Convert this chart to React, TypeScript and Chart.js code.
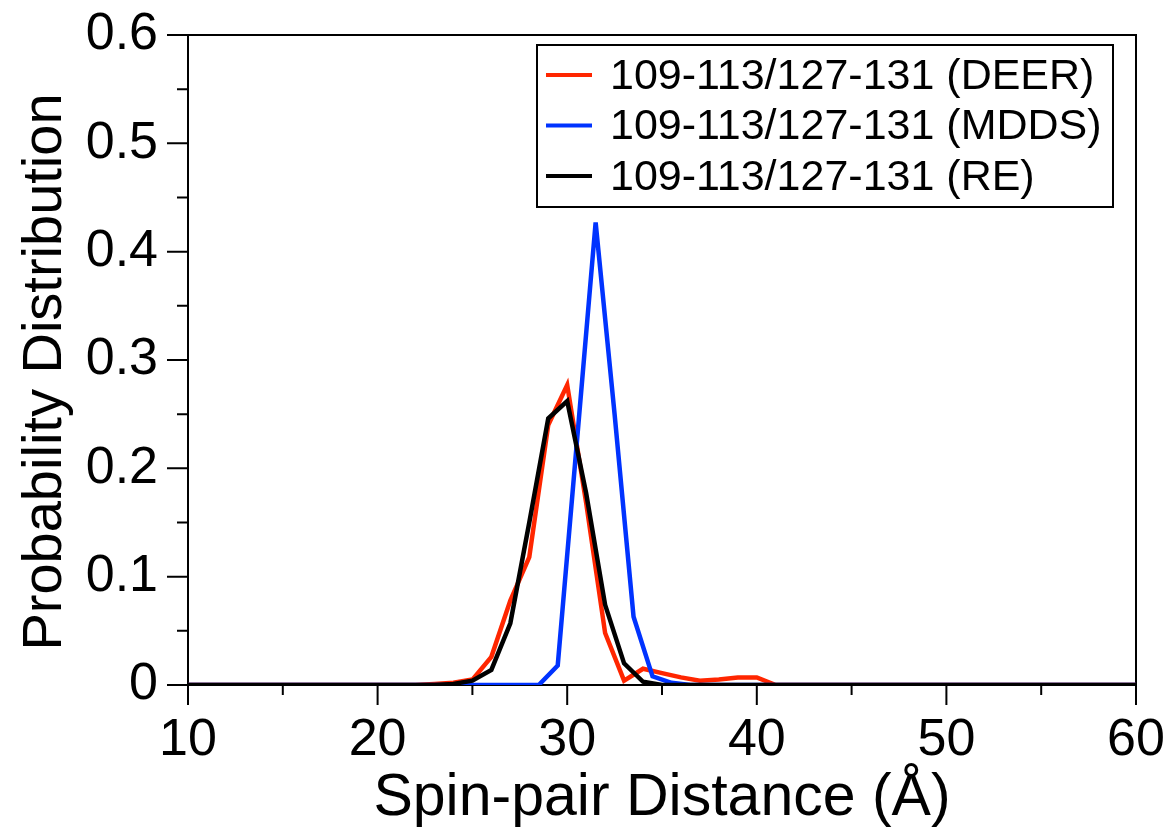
import React, { useEffect, useRef } from 'react';
import { Chart, registerables } from 'chart.js';

Chart.register(...registerables);

// Distances (Å) and probability values
const deerX = [10, 22, 23, 24, 25, 26, 27, 28, 29, 30, 31, 32, 33, 34, 35, 36, 37, 38, 39, 40, 41, 60];
const deerY = [0, 0, 0.001, 0.002, 0.005, 0.026, 0.078, 0.118, 0.24, 0.277, 0.168, 0.048, 0.004, 0.015, 0.011, 0.007, 0.004, 0.005, 0.007, 0.007, 0, 0];

const mddsX = [10, 28.5, 29.5, 30.5, 31.5, 32.5, 33.5, 34.5, 35.5, 36.5, 60];
const mddsY = [0, 0, 0.018, 0.222, 0.427, 0.25, 0.063, 0.008, 0.002, 0, 0];

const reX = [10, 23, 24, 25, 26, 27, 28, 29, 30, 31, 32, 33, 34, 35, 60];
const reY = [0, 0, 0.001, 0.004, 0.014, 0.057, 0.15, 0.246, 0.262, 0.177, 0.074, 0.02, 0.003, 0, 0];

const seriesLabels = [
  '109-113/127-131 (DEER)',
  '109-113/127-131 (MDDS)',
  '109-113/127-131 (RE)',
];
const seriesColors = ['#ff2600', '#0033ff', '#000000'];

const xMin = 10;
const xMax = 60;
const xStep = 10;
const yMin = 0;
const yMax = 0.6;
const yStep = 0.1;

const xTitle = 'Spin-pair Distance (Å)';
const yTitle = 'Probability Distribution';

const FONT = "'Liberation Sans', Arial, Helvetica, sans-serif";

const toPoints = (xs: number[], ys: number[]) => xs.map((x, i) => ({ x, y: ys[i] }));

const zeroScalePadding = (scale: any) => {
  scale.paddingLeft = 0;
  scale.paddingRight = 0;
  scale.paddingTop = 0;
  scale.paddingBottom = 0;
};

const frameTicksPlugin = {
  id: 'frameTicks',
  beforeDatasetsDraw(chart: any) {
    const { ctx, chartArea } = chart;
    const { left, right, top, bottom } = chartArea;
    ctx.save();
    ctx.strokeStyle = '#000';
    ctx.lineWidth = 2;
    ctx.strokeRect(left, top, right - left, bottom - top);

    const drawTicks = (scale: any, horizontal: boolean) => {
      const vals: number[] = scale.ticks.map((t: any) => t.value);
      const minors: number[] = [];
      for (let i = 0; i < vals.length - 1; i++) minors.push((vals[i] + vals[i + 1]) / 2);
      ctx.lineWidth = 2;
      ctx.beginPath();
      vals.forEach((v) => {
        const p = scale.getPixelForValue(v);
        if (horizontal) {
          ctx.moveTo(p, bottom);
          ctx.lineTo(p, bottom + 20);
        } else {
          ctx.moveTo(left, p);
          ctx.lineTo(left - 21, p);
        }
      });
      minors.forEach((v) => {
        const p = scale.getPixelForValue(v);
        if (horizontal) {
          ctx.moveTo(p, bottom);
          ctx.lineTo(p, bottom + 10);
        } else {
          ctx.moveTo(left, p);
          ctx.lineTo(left - 11, p);
        }
      });
      ctx.stroke();
    };
    drawTicks(chart.scales.x, true);
    drawTicks(chart.scales.y, false);
    ctx.restore();
  },
};

const yTitlePlugin = {
  id: 'yTitle',
  afterDraw(chart: any) {
    const { ctx } = chart;
    ctx.save();
    ctx.translate(46, 372);
    ctx.rotate(-Math.PI / 2);
    ctx.font = `56px ${FONT}`;
    ctx.fillStyle = '#000';
    ctx.textAlign = 'center';
    ctx.textBaseline = 'middle';
    ctx.fillText(yTitle, 0, 0);
    ctx.restore();
  },
};

const boxLegendPlugin = {
  id: 'boxLegend',
  afterDraw(chart: any) {
    const { ctx } = chart;
    const bx = 537;
    const by = 45;
    const bw = 576;
    const bh = 162;
    ctx.save();
    ctx.fillStyle = '#fff';
    ctx.fillRect(bx, by, bw, bh);
    ctx.strokeStyle = '#000';
    ctx.lineWidth = 2;
    ctx.strokeRect(bx, by, bw, bh);
    ctx.font = `43px ${FONT}`;
    ctx.textBaseline = 'middle';
    ctx.textAlign = 'left';
    chart.data.datasets.forEach((ds: any, i: number) => {
      const cy = by + 30 + i * 50.5;
      ctx.strokeStyle = ds.borderColor;
      ctx.lineWidth = 4;
      ctx.beginPath();
      ctx.moveTo(bx + 9, cy);
      ctx.lineTo(bx + 55, cy);
      ctx.stroke();
      ctx.fillStyle = '#000';
      ctx.fillText(ds.label, bx + 73, cy + 2);
    });
    ctx.restore();
  },
};

export default function App() {
  const canvasRef = useRef<HTMLCanvasElement | null>(null);

  useEffect(() => {
    if (!canvasRef.current) return;
    const chart = new Chart(canvasRef.current, {
      type: 'scatter',
      data: {
        datasets: [
          { label: seriesLabels[0], data: toPoints(deerX, deerY), borderColor: seriesColors[0], order: 3 },
          { label: seriesLabels[1], data: toPoints(mddsX, mddsY), borderColor: seriesColors[1], order: 2 },
          { label: seriesLabels[2], data: toPoints(reX, reY), borderColor: seriesColors[2], order: 1 },
        ].map((d) => ({
          ...d,
          showLine: true,
          borderWidth: 4.5,
          pointRadius: 0,
          pointHoverRadius: 0,
          backgroundColor: d.borderColor,
          tension: 0,
          borderJoinStyle: 'miter' as const,
        })),
      },
      options: {
        animation: false,
        responsive: false,
        devicePixelRatio: 1,
        layout: { padding: { left: 0, right: 36, top: 35, bottom: 0 } },
        plugins: {
          legend: { display: false },
          tooltip: { enabled: false },
        },
        scales: {
          x: {
            type: 'linear',
            min: xMin,
            max: xMax,
            grid: { display: false, drawTicks: false },
            border: { display: false },
            ticks: {
              stepSize: xStep,
              color: '#000',
              font: { family: FONT, size: 52 },
              padding: 24,
              maxRotation: 0,
            },
            title: {
              display: true,
              text: xTitle,
              color: '#000',
              font: { family: FONT, size: 59 },
              padding: { top: 0, bottom: 4 },
            },
            afterFit: (scale: any) => {
              scale.height = 153;
              zeroScalePadding(scale);
            },
          },
          y: {
            type: 'linear',
            min: yMin,
            max: yMax,
            grid: { display: false, drawTicks: false },
            border: { display: false },
            ticks: {
              stepSize: yStep,
              color: '#000',
              font: { family: FONT, size: 52 },
              padding: 30,
            },
            title: { display: false },
            afterFit: (scale: any) => {
              scale.width = 188;
              zeroScalePadding(scale);
            },
          },
        },
      },
      plugins: [frameTicksPlugin, yTitlePlugin, boxLegendPlugin],
    });
    return () => chart.destroy();
  }, []);

  return (
    <div style={{ position: 'fixed', left: 0, top: 0, width: 1172, height: 838, background: '#fff' }}>
      <canvas ref={canvasRef} width={1172} height={838} style={{ width: 1172, height: 838, display: 'block' }} />
    </div>
  );
}
